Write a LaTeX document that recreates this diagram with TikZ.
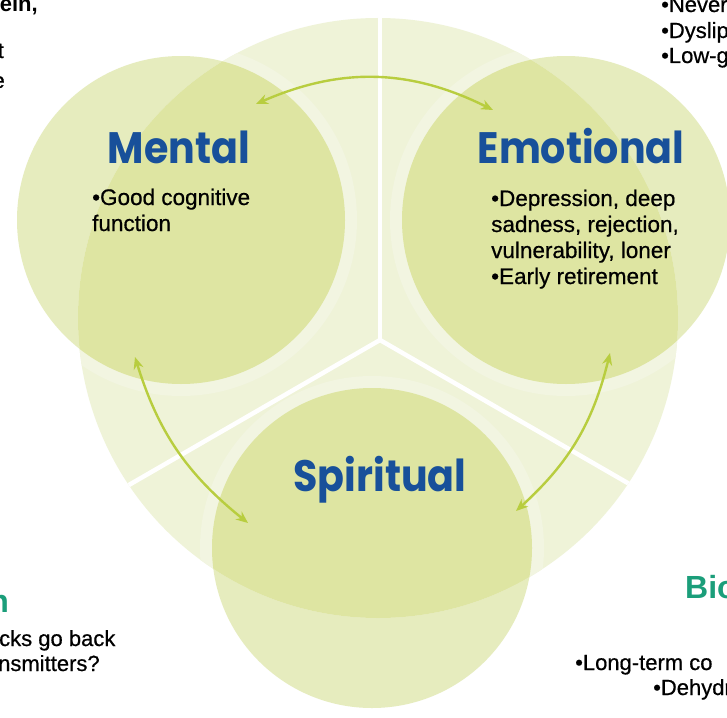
\documentclass[tikz,border=0pt]{standalone}
\usepackage{fontspec}
\setmainfont{Liberation Sans}
\newfontfamily\tieudefont{Poppins}[FakeStretch=0.9]
\newfontfamily\chuthan{Liberation Sans}[FakeBold=0.6]
\usepackage{xcolor}
\usetikzlibrary{positioning,arrows.meta}

\definecolor{nennhat}{HTML}{EFF3D8}
\definecolor{vienhao}{HTML}{F2F5E1}
\definecolor{trongngoai}{HTML}{E6ECBE}
\definecolor{tronggiua}{HTML}{DEE5A2}
\definecolor{muiten}{HTML}{B8CD3F}
\definecolor{xanhduong}{HTML}{18509A}
\definecolor{xanhngoc}{HTML}{1B9E7A}

\begin{document}
\begin{tikzpicture}[x=1pt,y=-1pt,
		tieude/.style={font=\tieudefont\bfseries\fontsize{44}{44}\selectfont, text=xanhduong, anchor=base, inner sep=0pt},
		noidung/.style={font=\chuthan\fontsize{22.5}{26}\selectfont, anchor=base west, inner sep=0pt},
		chubien/.style={font=\chuthan\fontsize{22}{25}\selectfont, inner sep=0pt},
		chuxanh/.style={font=\bfseries\fontsize{32}{32}\selectfont, text=xanhngoc, inner sep=0pt},
		mui/.style={draw=muiten, line width=2.4pt, {Stealth[length=12pt,width=10pt]}-{Stealth[length=12pt,width=10pt]}},
		vongtron/.style={circle, inner sep=0pt}]
	\useasboundingbox (0,0) rectangle (727,717);
	\clip (0,0) rectangle (727,717);
	\fill[white] (0,0) rectangle (727,717);
	
	% vòng tròn lớn phía sau
	\def\R{300pt}
	\coordinate (tam) at (378,318);
	\fill[nennhat] (tam) circle (\R);
	
	% ba vạch trắng chia vòng tròn
	\coordinate (giua) at (380,340);
	\begin{scope}
		\clip (tam) circle (\R);
		\foreach \g in {90,210,330} {
			\draw[white, line width=4.5pt] (giua) -- ++(\g:400pt);
		}
	\end{scope}
	
	% ba vòng tròn
	\node[vongtron, minimum size=328pt, fill=trongngoai] (tritue) at (181,220) {};
	\node[vongtron, minimum size=328pt, fill=trongngoai] (camxuc) at (566,220) {};
	\node[vongtron, minimum size=320pt, fill=trongngoai] (tamlinh) at (372,548) {};
	\begin{scope}
		\clip (tam) circle (\R);
		\foreach \t/\r in {tritue/164pt, camxuc/164pt, tamlinh/160pt} {
			\fill[vienhao] (\t.center) circle (\r+12pt);
		}
		\foreach \t/\r in {tritue/164pt, camxuc/164pt, tamlinh/160pt} {
			\fill[tronggiua] (\t.center) circle (\r);
		}
	\end{scope}
	
	% tiêu đề
	\node[tieude] (t1) at (179,163) {Mental};
	\node[tieude] (t2) at (581,163) {Emotional};
	\node[tieude] (t3) at (380,491) {Spiritual};
	
	% nội dung
	\node[noidung] (n1) at (92,205) {•Good cognitive};
	\node[noidung] (n2) at (92,231) {function};
	\node[noidung] (n3) at (491,206) {•Depression, deep};
	\node[noidung] (n4) at (491,232) {sadness, rejection,};
	\node[noidung] (n5) at (491,258) {vulnerability, loner};
	\node[noidung] (n6) at (491,284) {•Early retirement};
	
	% mũi tên hai chiều
	\coordinate (a1) at (256,104);
	\coordinate (a2) at (493,110);
	\coordinate (b1) at (135,357);
	\coordinate (b2) at (248,523);
	\coordinate (c1) at (610,353);
	\coordinate (c2) at (516,511);
	\draw[mui] (a1) to[bend left=25] (a2);
	\draw[mui] (b1) to[bend right=17] (b2);
	\draw[mui] (c1) to[bend left=17] (c2);
	
	% chữ ở các mép
	\node[chubien, font=\bfseries\fontsize{22}{25}\selectfont, anchor=base east] (l1) at (38,12) {tein,};
	\node[chubien, anchor=base east] (l2) at (4,58) {t};
	\node[chubien, anchor=base east] (l3) at (5,88) {e};
	\node[chubien, anchor=base west] (r1) at (661,12) {•Never};
	\node[chubien, anchor=base west] (r2) at (661,38) {•Dyslip};
	\node[chubien, anchor=base west] (r3) at (661,63) {•Low-g};
	\node[chuxanh, anchor=base east] (l4) at (9,612) {n};
	\node[chubien, anchor=base west] (l5) at (-1,646) {cks go back};
	\node[chubien, anchor=base west] (l6) at (-2,671) {nsmitters?};
	\node[chuxanh, anchor=base west] (r4) at (685,598) {Bio};
	\node[chubien, anchor=base west] (r5) at (575,670) {•Long-term co};
	\node[chubien, anchor=base west] (r6) at (653,695) {•Dehydr};
\end{tikzpicture}
\end{document}
